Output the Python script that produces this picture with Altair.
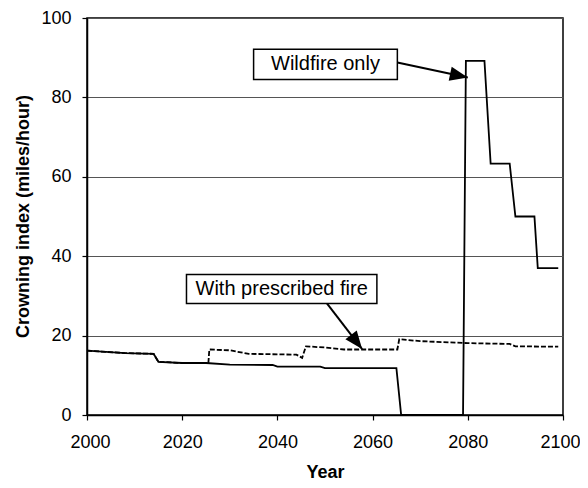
import altair as alt
import pandas as pd

# ---- data ----
wild_years = [2000, 2004, 2008, 2014, 2015, 2020, 2025, 2030, 2039, 2040, 2049, 2050, 2065, 2066,
              2079, 2079.6, 2083.5, 2084.8, 2088.8, 2090, 2094, 2094.7, 2099]
wild_values = [16.2, 15.9, 15.6, 15.4, 13.4, 13.1, 13.1, 12.7, 12.6, 12.2, 12.2, 11.8, 11.8, 0,
               0, 89.2, 89.2, 63.3, 63.3, 50.0, 50.0, 37.0, 37.0]

rx_years = [2000, 2004, 2008, 2014, 2015, 2020, 2025.5, 2025.7, 2030, 2034, 2044, 2045.2, 2046,
            2050, 2054, 2065.2, 2065.6, 2070, 2080, 2088.8, 2090, 2099]
rx_values = [16.2, 15.9, 15.6, 15.4, 13.4, 13.1, 13.1, 16.5, 16.3, 15.4, 15.2, 14.4, 17.3,
             17.0, 16.5, 16.5, 19.1, 18.6, 18.1, 17.9, 17.3, 17.2]

labels = ["Wildfire only", "With prescribed fire"]
box_x1 = [2035.0, 2020.9]
box_x2 = [2065.2, 2060.9]
box_y1 = [84.5, 28.1]
box_y2 = [92.1, 35.4]
text_x = [2050.1, 2040.9]
text_y = [88.3, 31.7]
arrow_x1 = [2065.2, 2050.4]
arrow_y1 = [88.8, 28.1]
arrow_x2 = [2080.0, 2057.8]
arrow_y2 = [85.0, 16.6]
arrow_angle = [102, 142]

FONT = "Liberation Sans"

wild_df = pd.DataFrame({"year": wild_years, "value": wild_values, "ord": range(len(wild_years))})
rx_df = pd.DataFrame({"year": rx_years, "value": rx_values, "ord": range(len(rx_years))})
ann_df = pd.DataFrame({
    "label": labels, "bx1": box_x1, "bx2": box_x2, "by1": box_y1, "by2": box_y2,
    "tx": text_x, "ty": text_y, "ax1": arrow_x1, "ay1": arrow_y1,
    "ax2": arrow_x2, "ay2": arrow_y2, "angle": arrow_angle,
})

xscale = alt.Scale(domain=[2000, 2100], nice=False, zero=False)
yscale = alt.Scale(domain=[0, 100], nice=False)

xaxis = alt.Axis(values=[2000, 2020, 2040, 2060, 2080, 2100], format="d", grid=False,
                 title="Year", tickSize=5, labelPadding=13, titleBaseline="alphabetic",
                 titleY=62, labelFlush=True, labelFlushOffset=17, labelOverlap=False,
                 labelBound=False)
yaxis = alt.Axis(values=[0, 20, 40, 60, 80, 100], grid=True, title="Crowning index (miles/hour)",
                 tickSize=5, labelPadding=11, titleBaseline="alphabetic", titleX=-59,
                 titleY=198, labelFlush=False, labelOverlap=False)

wild = alt.Chart(wild_df).mark_line(color="black", strokeWidth=1.8).encode(
    x=alt.X("year:Q", scale=xscale, axis=xaxis),
    y=alt.Y("value:Q", scale=yscale, axis=yaxis),
    order="ord:Q",
)

rx = alt.Chart(rx_df).mark_line(color="black", strokeWidth=1.8, strokeDash=[5, 2]).encode(
    x=alt.X("year:Q", scale=xscale),
    y=alt.Y("value:Q", scale=yscale),
    order="ord:Q",
)

base = alt.Chart(ann_df)

arrows = base.mark_rule(color="black", strokeWidth=2).encode(
    x=alt.X("ax1:Q", scale=xscale), x2="ax2:Q",
    y=alt.Y("ay1:Q", scale=yscale), y2="ay2:Q",
)

heads = base.mark_point(shape="M0,0 L-0.4,1 L0.4,1 Z", size=1296, filled=True,
                        color="black", opacity=1, strokeWidth=0).encode(
    x=alt.X("ax2:Q", scale=xscale),
    y=alt.Y("ay2:Q", scale=yscale),
    angle=alt.Angle("angle:Q", scale=None),
)

boxes = base.mark_rect(fill="white", stroke="black", strokeWidth=1.5).encode(
    x=alt.X("bx1:Q", scale=xscale), x2="bx2:Q",
    y=alt.Y("by1:Q", scale=yscale), y2="by2:Q",
)

texts = base.mark_text(font=FONT, fontSize=20, color="black", align="center",
                       baseline="middle").encode(
    x=alt.X("tx:Q", scale=xscale),
    y=alt.Y("ty:Q", scale=yscale),
    text="label:N",
)

chart = alt.layer(wild, rx, arrows, heads, boxes, texts).properties(
    width=476, height=397,
    padding={"left": 79, "top": 10, "right": 17, "bottom": 65},
    autosize="none",
).configure_view(stroke="black", strokeWidth=1.5).configure_axis(
    domainColor="black", domainWidth=1.5, tickColor="black", tickWidth=1.2,
    labelFont=FONT, labelFontSize=18, labelColor="black",
    titleFont=FONT, titleFontSize=18, titleFontWeight="bold", titleColor="black",
    gridColor="#555555", gridWidth=1, gridOpacity=1,
).configure_axisX(labelAngle=0)

chart.save("out.html", embed_options={"renderer": "svg", "actions": False})
